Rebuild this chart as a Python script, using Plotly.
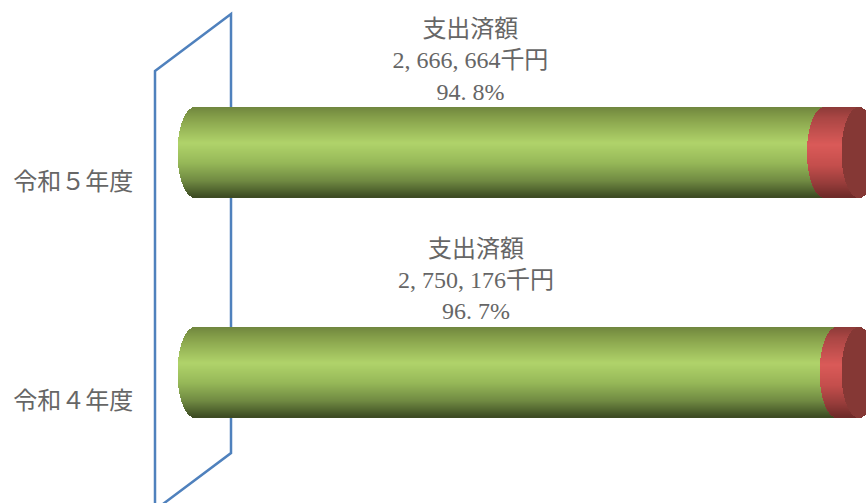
import plotly.graph_objects as go

categories = ["令和４年度", "令和５年度"]
spent_pct = [96.7, 94.8]
spent_amount = ["2,750,176", "2,666,664"]
series_name = "支出済額"
amount_unit = "千円"

W, H = 866, 503
ML = 140
X0_PX, X100_PX = 195.0, 859.0
PX_PER_PCT = (X100_PX - X0_PX) / 100.0
Y_CAT0_PX, PX_PER_CAT = 401.0, 219.5


def xd(px):
    return (px - X0_PX) / PX_PER_PCT


def yd(px):
    return (Y_CAT0_PX - px) / PX_PER_CAT


def lerp_color(stops, t):
    for (t0, c0), (t1, c1) in zip(stops, stops[1:]):
        if t <= t1:
            f = (t - t0) / (t1 - t0)
            return "rgb(%d,%d,%d)" % tuple(round(a + (b - a) * f) for a, b in zip(c0, c1))
    return "rgb(%d,%d,%d)" % stops[-1][1]


GREEN = [(0, (112, 134, 62)), (0.12, (134, 160, 74)), (0.40, (176, 211, 106)),
         (0.62, (150, 184, 88)), (0.82, (112, 138, 66)), (1, (60, 74, 34))]
RED = [(0, (140, 58, 56)), (0.12, (170, 70, 68)), (0.42, (218, 90, 88)),
       (0.65, (196, 78, 76)), (0.85, (150, 60, 58)), (1, (110, 42, 40))]
CAP = "#853835"

N = 90
CYL_OFFSET = 29.0 / PX_PER_CAT   # bars sit above the tick position (3-D projection)
STRIP = 1.0 / PX_PER_CAT
CAP_RX = 17.5 / PX_PER_PCT

ys, g_base, g_w, g_col, r_base, r_w, r_col, c_base, c_w = [], [], [], [], [], [], [], [], []
for i, pct in enumerate(spent_pct):
    centre = i + CYL_OFFSET
    for k in range(N):
        t = (k + 0.5) / N          # 0 top -> 1 bottom
        u = 2 * t - 1
        dx = CAP_RX * (1 - u * u) ** 0.5
        ys.append(centre + (N / 2 - k - 0.5) * STRIP)
        g_base.append(-dx)
        g_w.append(pct)
        g_col.append(lerp_color(GREEN, t))
        r_base.append(pct - dx)
        r_w.append(100 - pct)
        r_col.append(lerp_color(RED, t))
        c_base.append(100 - dx)
        c_w.append(2 * dx)

fig = go.Figure()
common = dict(y=ys, orientation="h", width=1.25 * STRIP, hoverinfo="skip", showlegend=False)
fig.add_trace(go.Bar(x=g_w, base=g_base, marker=dict(color=g_col, line_width=0), name=series_name, **common))
fig.add_trace(go.Bar(x=r_w, base=r_base, marker=dict(color=r_col, line_width=0), name="未執行", **common))
fig.add_trace(go.Bar(x=c_w, base=c_base, marker=dict(color=CAP, line_width=0), name="端面", **common))

GAP = '<span style="letter-spacing:6px">%s</span>'
labels = []
for amount, pct in zip(spent_amount, spent_pct):
    a = amount.replace(",", GAP % ",")
    p = ("%.1f%%" % pct).replace(".", GAP % ".")
    labels.append(f"{series_name}<br>{a}{amount_unit}<br>{p}")

TEXT_COLOR = "#666666"
fig.add_trace(go.Scatter(
    x=[p * 0.4375 for p in spent_pct],
    y=[i + CYL_OFFSET + 90.0 / PX_PER_CAT for i in range(len(spent_pct))],
    mode="text", text=labels, textposition="middle center",
    textfont=dict(family="Liberation Serif, Noto Sans CJK JP", size=24, color=TEXT_COLOR),
    hoverinfo="skip", showlegend=False,
))

wall = [(155, 71), (231, 14), (231, 453), (155, 510)]
path = "M " + " L ".join(f"{xd(a):.3f},{yd(b):.4f}" for a, b in wall) + " Z"

fig.update_layout(
    width=W, height=H, barmode="overlay", bargap=0,
    margin=dict(l=ML, r=0, t=0, b=0),
    paper_bgcolor="white", plot_bgcolor="white",
    shapes=[dict(type="path", path=path, xref="x", yref="y", layer="below",
                 line=dict(color="#4F81BD", width=2.5))],
    xaxis=dict(visible=False, range=[xd(ML), xd(W)]),
    yaxis=dict(range=[yd(H), yd(0)], tickvals=[0, 1], ticktext=categories,
               showgrid=False, zeroline=False, showline=False,
               ticks="outside", ticklen=1, tickcolor="rgba(0,0,0,0)",
               tickfont=dict(family="Liberation Serif, Noto Sans CJK JP", size=24, color=TEXT_COLOR)),
)

fig.write_html("out.html", config={"displayModeBar": False},
               post_script="document.body.style.margin='0';document.body.style.overflow='hidden';")
